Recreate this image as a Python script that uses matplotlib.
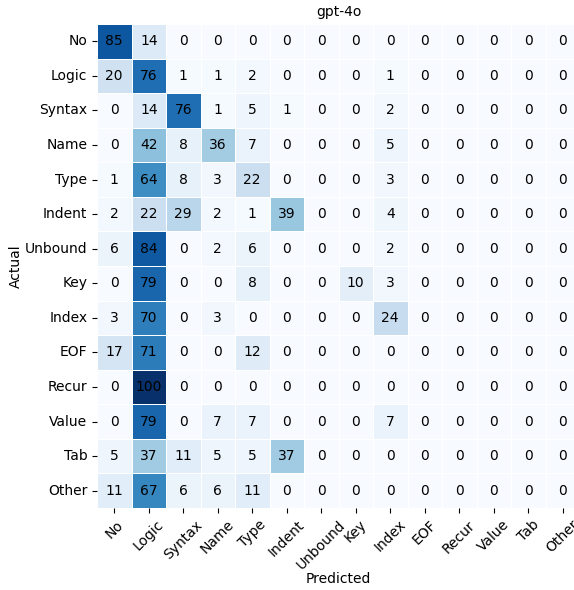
import matplotlib
matplotlib.use("Agg")
import matplotlib.pyplot as plt
import seaborn as sns
import numpy as np

labels = ["No", "Logic", "Syntax", "Name", "Type", "Indent", "Unbound",
          "Key", "Index", "EOF", "Recur", "Value", "Tab", "Other"]

row_no      = [85, 14, 0, 0, 0, 0, 0, 0, 0, 0, 0, 0, 0, 0]
row_logic   = [20, 76, 1, 1, 2, 0, 0, 0, 1, 0, 0, 0, 0, 0]
row_syntax  = [0, 14, 76, 1, 5, 1, 0, 0, 2, 0, 0, 0, 0, 0]
row_name    = [0, 42, 8, 36, 7, 0, 0, 0, 5, 0, 0, 0, 0, 0]
row_type    = [1, 64, 8, 3, 22, 0, 0, 0, 3, 0, 0, 0, 0, 0]
row_indent  = [2, 22, 29, 2, 1, 39, 0, 0, 4, 0, 0, 0, 0, 0]
row_unbound = [6, 84, 0, 2, 6, 0, 0, 0, 2, 0, 0, 0, 0, 0]
row_key     = [0, 79, 0, 0, 8, 0, 0, 10, 3, 0, 0, 0, 0, 0]
row_index   = [3, 70, 0, 3, 0, 0, 0, 0, 24, 0, 0, 0, 0, 0]
row_eof     = [17, 71, 0, 0, 12, 0, 0, 0, 0, 0, 0, 0, 0, 0]
row_recur   = [0, 100, 0, 0, 0, 0, 0, 0, 0, 0, 0, 0, 0, 0]
row_value   = [0, 79, 0, 7, 7, 0, 0, 0, 7, 0, 0, 0, 0, 0]
row_tab     = [5, 37, 11, 5, 5, 37, 0, 0, 0, 0, 0, 0, 0, 0]
row_other   = [11, 67, 6, 6, 11, 0, 0, 0, 0, 0, 0, 0, 0, 0]

matrix = np.array([row_no, row_logic, row_syntax, row_name, row_type,
                   row_indent, row_unbound, row_key, row_index, row_eof,
                   row_recur, row_value, row_tab, row_other])

fs = 10

fig = plt.figure(figsize=(5.74, 5.90), dpi=100)
ax = fig.add_axes([97/574, 1 - 508/590, 483/574, 484/590])

sns.heatmap(matrix, annot=True, fmt="d", cmap="Blues", vmin=0, vmax=100,
            cbar=False, linewidths=0.5, linecolor="white",
            xticklabels=labels, yticklabels=labels, ax=ax,
            annot_kws={"fontsize": fs, "color": "black"})

ax.set_xticklabels(labels, rotation=45, ha="center", fontsize=fs)
ax.set_yticklabels(labels, rotation=0, fontsize=fs)
ax.set_xlabel("Predicted", fontsize=fs, labelpad=0)
ax.set_ylabel("Actual", fontsize=fs, labelpad=1)
ax.set_title("gpt-4o", fontsize=fs)

fig.savefig("out.png", dpi=100)
